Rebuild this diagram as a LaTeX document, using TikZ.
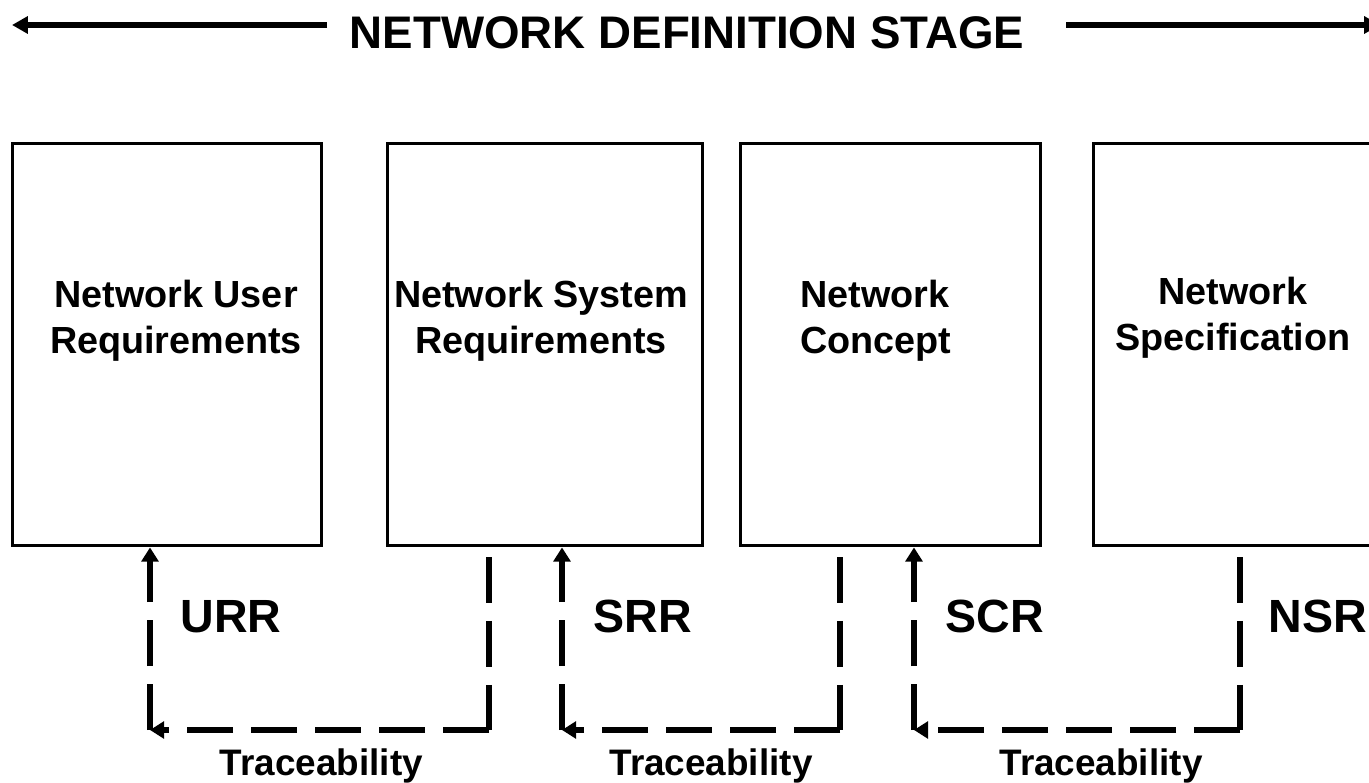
\documentclass[tikz,border=0pt]{standalone}
\usepackage{fontspec}
\setmainfont{Liberation Sans}
\usetikzlibrary{arrows.meta}

\tikzset{
    block/.style={draw, line width=1.7pt, inner sep=0pt, minimum height=8.06cm},
    blocktext/.style={font=\fontsize{21.5}{26}\selectfont\bfseries, align=center, inner sep=0pt},
    review/.style={font=\fontsize{26.5}{30}\selectfont\bfseries, inner sep=0pt},
    tracelabel/.style={font=\fontsize{21}{25}\selectfont\bfseries, inner sep=0pt, anchor=base},
    tracedash/.style={line width=3.1pt, dash pattern=on 0.92cm off 0.36cm},
    trace/.style={tracedash, -{Triangle[length=8pt,width=9.5pt]}},
    stagearrow/.style={line width=3.4pt, -{Triangle[length=9pt,width=9.5pt]}}
}

\begin{document}
\begin{tikzpicture}[x=0.02cm, y=-0.02cm]
    \useasboundingbox (0,0) rectangle (1369,783);

    % Define the stage heading
    \node[font=\fontsize{26}{30}\selectfont\bfseries, inner sep=0pt] (stage) at (687,32.5) {NETWORK DEFINITION STAGE};
    \coordinate (stageL) at (327,25);
    \coordinate (stageR) at (1066,25);
    \draw[stagearrow] (stageL) -- (12,25);
    \draw[stagearrow] (stageR) -- (1380,25);

    % Define the blocks
    \node[block, minimum width=6.2cm] (userreq) at (167,344.5) {};
    \node[block, minimum width=6.32cm] (sysreq) at (545,344.5) {};
    \node[block, minimum width=6.02cm] (concept) at (890.5,344.5) {};
    \node[block, minimum width=5.6cm] (spec) at (1233,344.5) {};

    % Label the blocks
    \node[blocktext] (userreqtext) at (176,320.5) {Network User\\Requirements};
    \node[blocktext] (sysreqtext) at (541,320.5) {Network System\\Requirements};
    \node[blocktext, align=left, anchor=west] (concepttext) at (800,320.5) {Network\\Concept};
    \node[blocktext] (spectext) at (1233,318) {Network\\Specification};

    % Define the turning points
    \coordinate (start1) at (489,557);
    \coordinate (start2) at (840,557);
    \coordinate (start3) at (1240,557);
    \coordinate (turn1) at (150,730);
    \coordinate (turn2) at (562,730);
    \coordinate (turn3) at (914,730);

    % Draw the traceability links
    \draw[tracedash] (start1) -- (start1 |- turn1);
    \draw[trace] (start1 |- turn1) -- (turn1);
    \draw[trace] (turn1) -- (turn1 |- userreq.south);

    \draw[tracedash] (start2) -- (start2 |- turn2);
    \draw[trace] (start2 |- turn2) -- (turn2);
    \draw[trace] (turn2) -- (turn2 |- sysreq.south);

    \draw[tracedash] (start3) -- (start3 |- turn3);
    \draw[trace] (start3 |- turn3) -- (turn3);
    \draw[trace] (turn3) -- (turn3 |- concept.south);

    % Label the reviews
    \node[review] (urr) at (231,616.5) {URR};
    \node[review] (srr) at (643,616.5) {SRR};
    \node[review] (scr) at (995,616.5) {SCR};
    \node[review] (nsr) at (1318,616.5) {NSR};

    \node[tracelabel] (trace1) at (321.5,775) {Traceability};
    \node[tracelabel] (trace2) at (711,775) {Traceability};
    \node[tracelabel] (trace3) at (1101,775) {Traceability};

\end{tikzpicture}
\end{document}
